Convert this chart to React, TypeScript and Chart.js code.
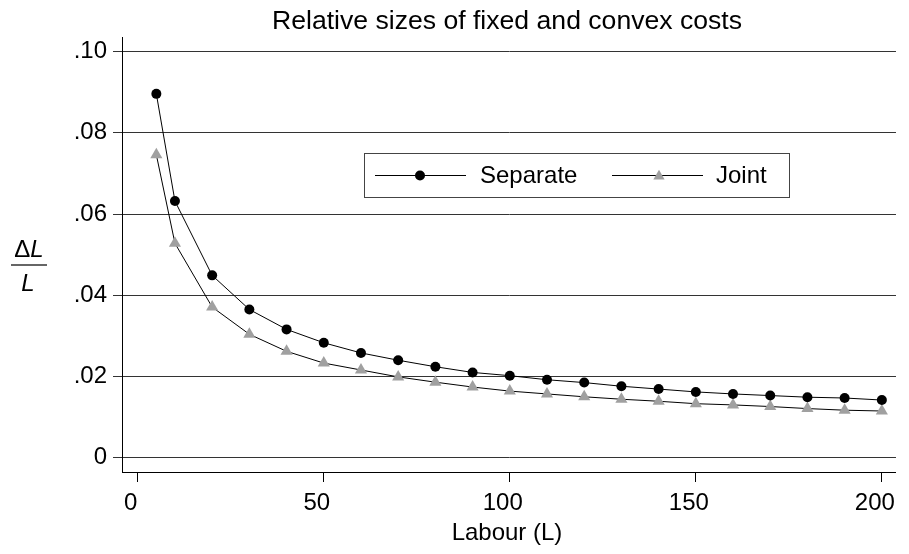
import React, { useEffect, useRef } from "react";
import { Chart, registerables } from "chart.js";

Chart.register(...registerables);

const labour = [5, 10, 20, 30, 40, 50, 60, 70, 80, 90, 100, 110, 120, 130, 140, 150, 160, 170, 180, 190, 200];
const separate = [0.0896, 0.0632, 0.0449, 0.0365, 0.0316, 0.0283, 0.0258, 0.024, 0.0224, 0.021, 0.0202, 0.0192, 0.0185, 0.0176, 0.0169, 0.0162, 0.0157, 0.0153, 0.0149, 0.0147, 0.0142];
const joint = [0.0746, 0.0528, 0.0371, 0.0304, 0.0262, 0.0233, 0.0216, 0.0199, 0.0186, 0.0174, 0.0164, 0.0157, 0.015, 0.0144, 0.0139, 0.0133, 0.013, 0.0126, 0.0121, 0.0117, 0.0115];
const xTicks = [0, 50, 100, 150, 200];
const yTicks = [0, 0.02, 0.04, 0.06, 0.08, 0.1];
const yTickLabels = ["0", ".02", ".04", ".06", ".08", ".10"];
const seriesNames = ["Separate", "Joint"];
const titleText = "Relative sizes of fixed and convex costs";
const xTitle = "Labour (L)";

const FONT = "'Liberation Sans', Arial, Helvetica, sans-serif";
const GRAY = "#a0a0a0";

const textPlugin = {
  id: "customText",
  afterDraw(chart: any) {
    const ctx = chart.ctx;
    ctx.save();
    ctx.fillStyle = "#000";
    // title
    ctx.font = `26.6px ${FONT}`;
    ctx.textAlign = "center";
    ctx.textBaseline = "alphabetic";
    ctx.fillText(titleText, 507, 29);
    // x axis title
    ctx.font = `24px ${FONT}`;
    ctx.fillText(xTitle, 507, 540);
    // y axis fraction
    const cx = 29;
    ctx.font = `24px ${FONT}`;
    const dW = ctx.measureText("\u0394").width;
    ctx.font = `italic 24px ${FONT}`;
    const lW = ctx.measureText("L").width;
    const total = dW + lW;
    ctx.textAlign = "left";
    ctx.font = `24px ${FONT}`;
    ctx.fillText("\u0394", cx - total / 2, 257);
    ctx.font = `italic 24px ${FONT}`;
    ctx.fillText("L", cx - total / 2 + dW, 257);
    ctx.textAlign = "center";
    ctx.fillText("L", cx - 1, 291);
    ctx.strokeStyle = "#333";
    ctx.lineWidth = 1.5;
    ctx.beginPath();
    ctx.moveTo(11, 265);
    ctx.lineTo(47, 265);
    ctx.stroke();
    // legend
    ctx.strokeStyle = "#444";
    ctx.lineWidth = 1;
    ctx.strokeRect(364.5, 153.5, 425, 44);
    const ly = 175.5;
    ctx.strokeStyle = "#000";
    ctx.beginPath();
    ctx.moveTo(375, ly);
    ctx.lineTo(466, ly);
    ctx.moveTo(612, ly);
    ctx.lineTo(703, ly);
    ctx.stroke();
    ctx.fillStyle = "#000";
    ctx.beginPath();
    ctx.arc(420, ly, 5, 0, Math.PI * 2);
    ctx.fill();
    ctx.fillStyle = GRAY;
    const r = 6.5;
    const ty = 176.2;
    ctx.beginPath();
    ctx.moveTo(659, ty - r);
    ctx.lineTo(659 + r * Math.sin((2 * Math.PI) / 3), ty + r / 2);
    ctx.lineTo(659 - r * Math.sin((2 * Math.PI) / 3), ty + r / 2);
    ctx.closePath();
    ctx.fill();
    ctx.fillStyle = "#000";
    ctx.font = `24px ${FONT}`;
    ctx.textAlign = "left";
    ctx.textBaseline = "middle";
    ctx.fillText(seriesNames[0], 480, 176);
    ctx.fillText(seriesNames[1], 716, 176);
    ctx.restore();
  },
};

export default function App() {
  const ref = useRef<HTMLCanvasElement | null>(null);
  useEffect(() => {
    if (!ref.current) return;
    const chart = new Chart(ref.current, {
      type: "line",
      data: {
        datasets: [
          {
            label: seriesNames[0],
            data: labour.map((x, i) => ({ x, y: separate[i] })),
            borderColor: "#000",
            borderWidth: 1,
            pointStyle: "circle",
            pointRadius: 5,
            pointBackgroundColor: "#000",
            pointBorderColor: "#000",
            pointBorderWidth: 0,
            tension: 0,
          },
          {
            label: seriesNames[1],
            data: labour.map((x, i) => ({ x, y: joint[i] })),
            borderColor: "#000",
            borderWidth: 1,
            pointStyle: "triangle",
            pointRadius: 7,
            pointBackgroundColor: GRAY,
            pointBorderColor: GRAY,
            pointBorderWidth: 0,
            tension: 0,
          },
        ],
      },
      options: {
        animation: false,
        responsive: false,
        devicePixelRatio: 1,
        layout: { padding: { top: 37, left: 0, right: 0, bottom: 0 } },
        plugins: {
          legend: { display: false },
          title: { display: false },
          tooltip: { enabled: false },
        },
        scales: {
          x: {
            type: "linear",
            min: -4.23,
            max: 203.8,
            afterFit: (s: any) => {
              s.height = 82;
            },
            afterBuildTicks: (s: any) => {
              s.ticks = xTicks.map((v) => ({ value: v }));
            },
            grid: {
              drawOnChartArea: false,
              drawTicks: true,
              tickLength: 10,
              color: "#000",
            },
            border: { display: true, color: "#000", width: 1 },
            ticks: {
              color: "#000",
              font: { family: FONT, size: 24 },
              padding: 7,
              labelOffset: -7,
              maxRotation: 0,
              autoSkip: false,
            },
          },
          y: {
            type: "linear",
            min: -0.00352,
            max: 0.1036,
            afterFit: (s: any) => {
              s.width = 122;
            },
            afterBuildTicks: (s: any) => {
              s.ticks = yTicks.map((v) => ({ value: v }));
            },
            grid: {
              drawOnChartArea: true,
              drawTicks: true,
              tickLength: 9,
              color: "#333",
              lineWidth: 1,
            },
            border: { display: true, color: "#000", width: 1 },
            ticks: {
              color: "#000",
              font: { family: FONT, size: 24 },
              padding: 6,
              autoSkip: false,
              callback: (v: any) => {
                const i = yTicks.findIndex((t) => Math.abs(t - Number(v)) < 1e-9);
                return i >= 0 ? yTickLabels[i] : "";
              },
            },
          },
        },
      },
      plugins: [textPlugin],
    });
    return () => chart.destroy();
  }, []);
  return (
    <div style={{ position: "absolute", left: 0, top: 0, width: 909, height: 554, background: "#fff" }}>
      <canvas ref={ref} width={909} height={554} style={{ display: "block", width: 909, height: 554 }} />
    </div>
  );
}
